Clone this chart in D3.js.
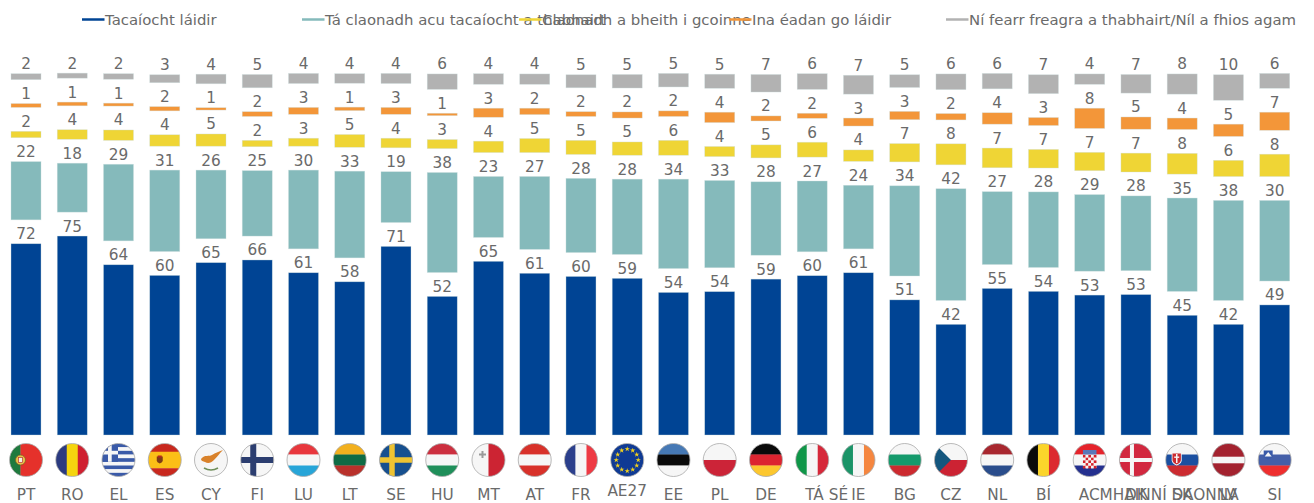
<!DOCTYPE html>
<html>
<head>
<meta charset="utf-8">
<script src="https://cdn.jsdelivr.net/npm/d3@7/dist/d3.min.js"></script>
<style>
  html, body { margin: 0; padding: 0; background: #fff; }
  svg { display: block; }
  text { font-family: "DejaVu Sans", Verdana, sans-serif; fill: #6a6a6a; }
</style>
</head>
<body>
<script>
// categories, left to right
const countries = ["PT","RO","EL","ES","CY","FI","LU","LT","SE","HU","MT","AT","FR","AE27","EE","PL","DE","TÁ SÉ","IE","BG","CZ","NL","BÍ","ACMHAINNÍ DAONNA","DK","SK","LV","SI"];

// values (labels are these values rounded)
const strongSupport = [71.9,74.8,64,60,64.8,65.8,61,57.6,70.9,52.1,65.3,60.8,59.6,58.9,53.6,53.9,58.6,59.9,61,50.8,41.6,55.1,54,52.6,52.8,45,41.6,48.9];
const leanSupport = [21.9,18.4,28.8,30.6,25.8,24.6,29.6,32.6,19.1,37.6,22.9,27.4,27.9,28.3,33.6,32.8,27.6,26.6,23.9,33.9,42,27.4,28.4,28.8,28.1,35.1,37.6,30.3];
const leanAgainst = [2.4,3.6,3.9,4.3,4.6,2.4,3,4.8,3.6,3.4,4.3,5.3,5.3,5,5.6,3.8,4.9,5.6,4.3,6.9,7.9,7.4,7,6.9,7.1,7.8,6.1,8.4];
const strongAgainst = [1.45,1.4,1.1,1.6,0.9,1.8,2.6,1.3,2.6,0.9,3.4,2.4,1.8,2.3,2.1,3.9,1.9,1.9,3,3.1,2.4,4.3,3,7.6,4.6,4.3,4.6,6.8];
const noAnswer = [2.25,1.9,2.1,3,3.6,5,3.8,3.6,3.8,5.8,4,3.9,4.9,5.1,5.1,5.3,6.6,5.9,7.1,4.8,5.9,5.8,7.1,3.9,7,7.6,9.6,5.6];

const seriesNames = ["Tacaíocht láidir","Tá claonadh acu tacaíocht a thabhairt","Claonadh a bheith i gcoinne","Ina éadan go láidir","Ní fearr freagra a thabhairt/Níl a fhios agam"];
const seriesColors = ["#004494","#85BABB","#EFD535","#F39639","#B2B2B2"];
const legendStarts = [82,302,519,729,946];

const width = 1314, height = 503;
const layerGap = 23.9; // white room between stacked segments, holds the label

const svg = d3.select("body").append("svg").attr("width", width).attr("height", height);

const rows = countries.map((c, i) => ({
  country: c, s0: strongSupport[i], s1: leanSupport[i], s2: leanAgainst[i], s3: strongAgainst[i], s4: noAnswer[i],
}));
const stacked = d3.stack().keys(["s0","s1","s2","s3","s4"])(rows);

const x = d3.scaleBand().domain(countries).range([11, 1289.7]).paddingInner(0.351).paddingOuter(0);
const y = d3.scaleLinear().domain([0, 100]).range([435, 169]);

// legend
const legend = svg.append("g").selectAll("g").data(seriesNames).enter().append("g")
  .attr("transform", (d, i) => `translate(${legendStarts[i]},0)`);
legend.append("line")
  .attr("x1", 0).attr("x2", 22.5).attr("y1", 19.5).attr("y2", 19.5)
  .attr("stroke", (d, i) => seriesColors[i]).attr("stroke-width", 2.5);
legend.append("text")
  .attr("x", 23).attr("y", 25)
  .style("font-size", "14.9px")
  .text((d) => d);

// bars + value labels
const layers = svg.append("g").selectAll("g").data(stacked).enter().append("g")
  .attr("fill", (d, i) => seriesColors[i]);
layers.selectAll("rect").data((d) => d).enter().append("rect")
  .attr("x", (d) => x(d.data.country))
  .attr("width", x.bandwidth())
  .attr("y", function (d) {
    const k = this.parentNode.__data__.index;
    return y(d[1]) - k * layerGap;
  })
  .attr("height", (d) => y(d[0]) - y(d[1]))
  .attr("stroke", "#cfe0e0").attr("stroke-width", 0.6).attr("stroke-opacity", 0.6);
layers.selectAll("text").data((d) => d).enter().append("text")
  .attr("x", (d) => x(d.data.country) + x.bandwidth() / 2)
  .attr("y", function (d) {
    const k = this.parentNode.__data__.index;
    return y(d[1]) - k * layerGap - 4.5;
  })
  .attr("text-anchor", "middle")
  .style("font-size", "15.3px")
  .text(function (d) {
    return Math.round(d[1] - d[0]);
  });

// category labels, the two long ones run over their neighbours
const catLabels = svg.append("g").selectAll("text").data(countries).enter().append("text")
  .style("font-size", "15.3px")
  .attr("y", (d) => (d === "AE27" ? 496 : 500))
  .attr("x", (d) => {
    const c = x(d) + x.bandwidth() / 2;
    if (d === "TÁ SÉ") return c - 7;
    if (d.length > 5) return c - 11;
    return c;
  })
  .attr("text-anchor", (d) => (d.length > 4 ? "start" : "middle"))
  .text((d) => d);

// flags
const R = 16.5;
const white = "#f6f6f6";
const flagStripes = {
  PT: ["v", [["#1f7a3e", 1], ["#e5312b", 2]]],
  RO: ["v", [["#2b3a80", 1], ["#f5d50f", 1], ["#cf2030", 1]]],
  EL: ["h", [["#3a5aa8",1],[white,1],["#3a5aa8",1],[white,1],["#3a5aa8",1],[white,1],["#3a5aa8",1],[white,1],["#3a5aa8",1]]],
  ES: ["h", [["#c8281e", 1], ["#fbbf17", 2], ["#c8281e", 1]]],
  CY: ["h", [[white, 1]]],
  FI: ["h", [[white, 1]]],
  LU: ["h", [["#e8373d", 1], [white, 1], ["#27a5d8", 1]]],
  LT: ["h", [["#f2b01e", 1], ["#0f6b45", 1], ["#b9312b", 1]]],
  SE: ["h", [["#17508f", 1]]],
  HU: ["h", [["#cc2f3f", 1], [white, 1], ["#1f8f5a", 1]]],
  MT: ["v", [[white, 1], ["#cc2433", 1]]],
  AT: ["h", [["#d8312a", 1], [white, 1], ["#d8312a", 1]]],
  FR: ["v", [["#2b3f8c", 1], [white, 1], ["#ee3a44", 1]]],
  AE27: ["h", [["#0f3a94", 1]]],
  EE: ["h", [["#4679b5", 1], ["#0a0a0a", 1], [white, 1]]],
  PL: ["h", [[white, 1], ["#cc2438", 1]]],
  DE: ["h", [["#0a0a0a", 1], ["#dc2430", 1], ["#fcc72e", 1]]],
  "TÁ SÉ": ["v", [["#0f9648", 1], [white, 1], ["#d6283a", 1]]],
  IE: ["v", [["#1b9468", 1], [white, 1], ["#f5863f", 1]]],
  BG: ["h", [[white, 1], ["#159a6c", 1], ["#cc2a2f", 1]]],
  CZ: ["h", [[white, 1], ["#cc2333", 1]]],
  NL: ["h", [["#a8272f", 1], [white, 1], ["#2a4d8c", 1]]],
  "BÍ": ["v", [["#0a0a0a", 1], ["#fbd52b", 1], ["#dc2a30", 1]]],
  "ACMHAINNÍ DAONNA": ["h", [["#e5232b", 1], [white, 1], ["#24308f", 1]]],
  DK: ["h", [["#d2283f", 1]]],
  SK: ["h", [[white, 1], ["#1b4fa0", 1], ["#cc2b30", 1]]],
  LV: ["h", [["#a3222f", 2], [white, 1], ["#a3222f", 2]]],
  SI: ["h", [[white, 1], ["#445fa8", 1], ["#ee2e2e", 1]]],
};

const nordicCross = (g, fg, w) => {
  g.append("rect").attr("x", -4 - w / 2).attr("y", -R).attr("width", w).attr("height", 2 * R).attr("fill", fg);
  g.append("rect").attr("x", -R).attr("y", -w / 2).attr("width", 2 * R).attr("height", w).attr("fill", fg);
};
const shield = (g, cx, cy, w, h, fill) => {
  g.append("path")
    .attr("d", `M${cx - w / 2},${cy - h / 2}h${w}v${h * 0.6}q0,${h * 0.25} ${-w / 2},${h * 0.4}q${-w / 2},${-h * 0.15} ${-w / 2},${-h * 0.4}z`)
    .attr("fill", fill);
};
const flagExtras = {
  PT: (g) => {
    g.append("circle").attr("cx", -5.5).attr("r", 5).attr("fill", "#e9c24a").attr("stroke", "#7a5a20").attr("stroke-width", 0.7);
    g.append("rect").attr("x", -7.5).attr("y", -2.5).attr("width", 4).attr("height", 5).attr("fill", "#f3efe6").attr("stroke", "#b33").attr("stroke-width", 0.7);
  },
  EL: (g) => {
    g.append("rect").attr("x", -R).attr("y", -R).attr("width", 16).attr("height", 18.3).attr("fill", "#3a5aa8");
    g.append("rect").attr("x", -R).attr("y", -9.2).attr("width", 16).attr("height", 3.7).attr("fill", white);
    g.append("rect").attr("x", -10.5).attr("y", -R).attr("width", 3.7).attr("height", 18.3).attr("fill", white);
  },
  ES: (g) => {
    shield(g, -5, 0, 6, 7, "#7d3b18");
    g.append("rect").attr("x", -7).attr("y", -4.5).attr("width", 4).attr("height", 2).attr("fill", "#b5261e");
  },
  CY: (g) => {
    g.append("path").attr("d", "M-10,-1 C-6,-6 -2,-3 1,-5 C4,-7 9,-9 12,-10 C8,-6 6,-3 3,0 C0,3 -3,4 -6,2 C-8,1 -10,1 -10,-1Z").attr("fill", "#d9822b");
    g.append("path").attr("d", "M-7,8 Q0,12 7,8").attr("fill", "none").attr("stroke", "#6f8f5a").attr("stroke-width", 1.6);
  },
  FI: (g) => nordicCross(g, "#2c3e70", 6),
  SE: (g) => nordicCross(g, "#eec332", 5.5),
  DK: (g) => nordicCross(g, white, 4),
  MT: (g) => {
    g.append("path").attr("d", "M-7,-9h2v2.5h2.5v2h-2.5v2.5h-2v-2.5h-2.5v-2h2.5z").attr("fill", "#9a9a9a");
  },
  AE27: (g) => {
    const star = d3.symbol().type(d3.symbolStar).size(9);
    g.selectAll("path").data(d3.range(12)).enter().append("path")
      .attr("d", star).attr("fill", "#f3d21c")
      .attr("transform", (i) => `rotate(${i * 30}) translate(0,-11) rotate(${-i * 30})`);
  },
  CZ: (g) => {
    g.append("path").attr("d", `M${-R},${-R}L0,0L${-R},${R}Z`).attr("fill", "#14567e");
  },
  "ACMHAINNÍ DAONNA": (g) => {
    const sq = 2.7;
    const cells = d3.cross(d3.range(5), d3.range(5));
    g.append("rect").attr("x", -6.75).attr("y", -5.5).attr("width", 13.5).attr("height", 13.5).attr("fill", white);
    g.selectAll("rect.c").data(cells).enter().append("rect").attr("class", "c")
      .attr("x", (d) => -6.75 + d[0] * sq).attr("y", (d) => -5 + d[1] * sq)
      .attr("width", sq).attr("height", sq)
      .attr("fill", (d) => ((d[0] + d[1]) % 2 ? white : "#d5232b"));
    g.append("rect").attr("x", -6.75).attr("y", -10).attr("width", 13.5).attr("height", 4.5).attr("fill", "#5a78b8");
  },
  SK: (g) => {
    shield(g, -5.5, -1, 10, 13, white);
    shield(g, -5.5, -1, 8.4, 11, "#cc2b30");
    g.append("rect").attr("x", -6.2).attr("y", -6).attr("width", 1.5).attr("height", 9).attr("fill", white);
    g.append("rect").attr("x", -8).attr("y", -3.5).attr("width", 5).attr("height", 1.4).attr("fill", white);
  },
  SI: (g) => {
    shield(g, -6.5, -5, 9, 9, "#3a5aa8");
    g.append("path").attr("d", "M-10,-3.5 L-6.5,-8 L-3,-3.5 Z").attr("fill", white);
  },
};

// single defs + clip for the flag circle
svg.append("defs").append("clipPath").attr("id", "flagClip").append("circle").attr("r", R);

const flag = svg.append("g").selectAll("g").data(countries).enter().append("g")
  .attr("transform", (d) => `translate(${x(d) + x.bandwidth() / 2},460)`);
flag.each(function (d) {
  const [dir, stripes] = flagStripes[d];
  const g = d3.select(this).append("g").attr("clip-path", "url(#flagClip)");
  const total = d3.sum(stripes, (s) => s[1]);
  let pos = -R;
  stripes.forEach(([col, w]) => {
    const size = (2 * R * w) / total;
    g.append("rect")
      .attr("x", dir === "v" ? pos : -R)
      .attr("y", dir === "h" ? pos : -R)
      .attr("width", dir === "v" ? size + 0.3 : 2 * R)
      .attr("height", dir === "h" ? size + 0.3 : 2 * R)
      .attr("fill", col);
    pos += size;
  });
  if (flagExtras[d]) flagExtras[d](g);
  d3.select(this).append("circle").attr("r", R)
    .attr("fill", "none").attr("stroke", "#a8a8a8").attr("stroke-width", 0.8);
});
</script>
</body>
</html>
